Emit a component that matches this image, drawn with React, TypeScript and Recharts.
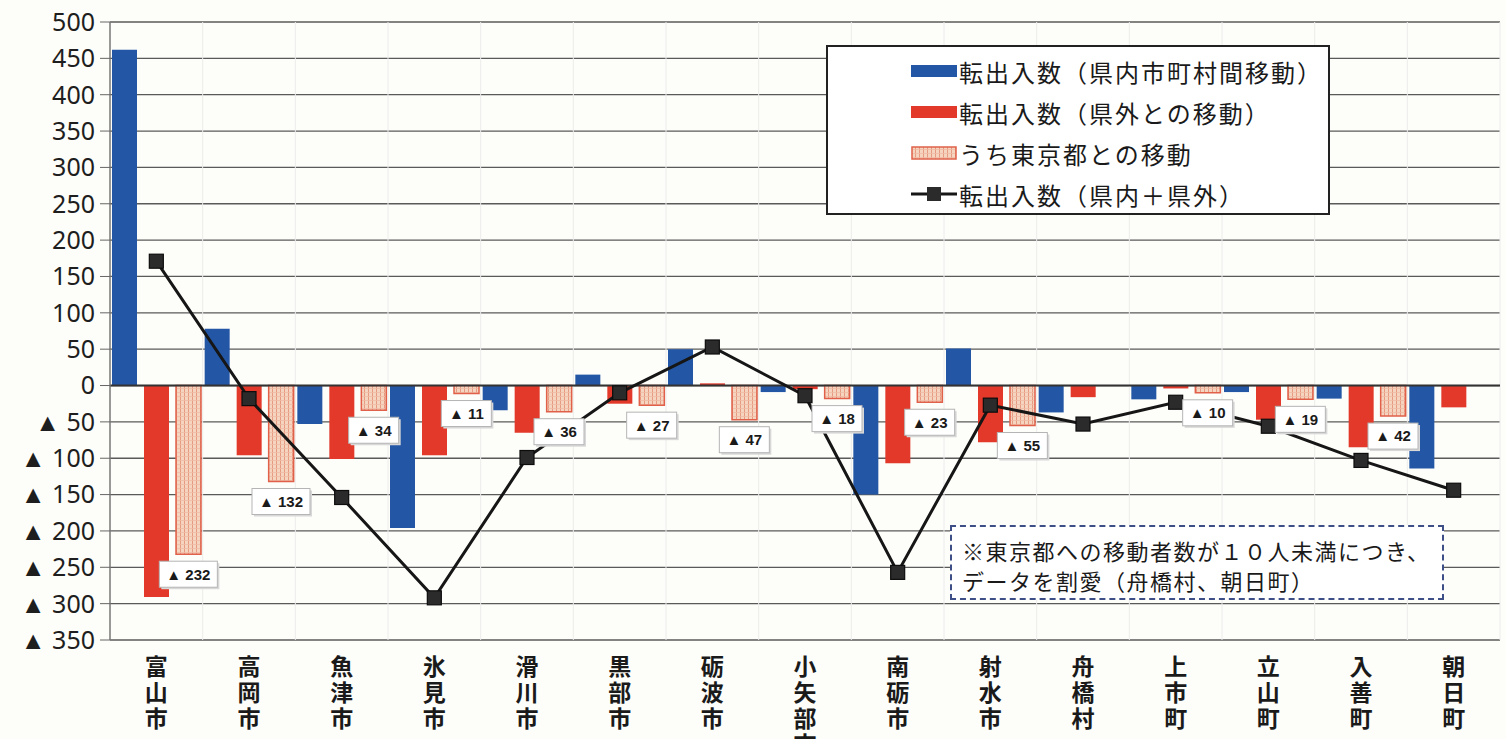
import React from "react";
import { ComposedChart, Bar, Line, XAxis, YAxis, CartesianGrid, ReferenceLine, LabelList } from "recharts";

// 市町村
const cities = [
    "富山市", "高岡市", "魚津市", "氷見市", "滑川市", "黒部市", "砺波市", "小矢部市",
    "南砺市", "射水市", "舟橋村", "上市町", "立山町", "入善町", "朝日町"
];
// 転出入数（県内市町村間移動）
const intraPref = [462, 78, -53, -196, -34, 15, 50, -9, -150, 51, -37, -19, -9, -18, -114];
// 転出入数（県外との移動）
const outerPref = [-291, -96, -101, -96, -65, -25, 3, -5, -107, -78, -16, -4, -47, -85, -30];
// うち東京都との移動 (null = 10人未満につき割愛)
const tokyo = [-232, -132, -34, -11, -36, -27, -47, -18, -23, -55, null, -10, -19, -42, null];
// 転出入数（県内＋県外）
const netTotal = [171, -18, -154, -292, -99, -10, 53, -14, -257, -27, -53, -23, -56, -103, -144];

const yTicks = [500, 450, 400, 350, 300, 250, 200, 150, 100, 50, 0, -50, -100, -150, -200, -250, -300, -350];

const data = cities.map((name, i) => ({
    name,
    intra: intraPref[i],
    outer: outerPref[i],
    tokyo: tokyo[i],
    total: netTotal[i],
}));

const BLUE = "#2357a6";
const RED = "#e2392a";
const JP = "'Noto Sans CJK JP', 'Noto Sans', sans-serif";

const fmtY = (v: number) => (v < 0 ? `▲ ${Math.abs(v)}` : `${v}`);

const CityTick = (props: any) => {
    const { x, y, payload } = props;
    const chars = Array.from(String(payload.value));
    return (
        <text x={x} y={y} textAnchor="middle" fontSize={23} fontWeight={700} fill="#1a1a1a" fontFamily={JP}>
            {chars.map((c, i) => (
                <tspan key={i} x={x} dy={i === 0 ? 35 : 26}>{c}</tspan>
            ))}
        </text>
    );
};

const SquareDot = (props: any) => {
    const { cx, cy, index } = props;
    if (cx == null || cy == null) return null;
    return <rect key={index} x={cx - 7} y={cy - 7} width={14} height={14} fill="#2b2b2b" stroke="#0d0d0d" strokeWidth={1.2} />;
};

// white tag under each Tokyo bar
const TokyoTag = (props: any) => {
    const { x, y, value, index } = props;
    if (value == null || x == null || y == null) return null;
    const txt = `▲ ${Math.abs(value)}`;
    const w = txt.length * 8 + 18;
    const h = 26;
    const cx = x + 32;
    const cy = y + 20;
    return (
        <g key={index}>
            <rect x={cx - w / 2 + 2} y={cy - h / 2 + 2} width={w} height={h} fill="#d8d8d8" />
            <rect x={cx - w / 2} y={cy - h / 2} width={w} height={h} fill="#ffffff" stroke="#b5b5b5" strokeWidth={1} />
            <text x={cx} y={cy} dy="0.36em" textAnchor="middle" fontSize={15} fontWeight={700}
                  fill="#1a1a1a" fontFamily="'Liberation Sans', Arial, sans-serif">{txt}</text>
        </g>
    );
};

const legendItems = [
    { label: "転出入数（県内市町村間移動）", kind: "blue" },
    { label: "転出入数（県外との移動）", kind: "red" },
    { label: "うち東京都との移動", kind: "tokyo" },
    { label: "転出入数（県内＋県外）", kind: "line" },
];

const LegendIcon = ({ kind }: { kind: string }) => (
    <svg width={46} height={16} style={{ marginRight: 2 }}>
        {kind === "blue" && <rect x={0} y={2} width={46} height={12} fill={BLUE} />}
        {kind === "red" && <rect x={0} y={2} width={46} height={12} fill={RED} />}
        {kind === "tokyo" && <rect x={1} y={2} width={44} height={12} fill="url(#tokyoHatch)" stroke="#e0604a" strokeWidth={1.5} />}
        {kind === "line" && (
            <g>
                <line x1={0} y1={8} x2={46} y2={8} stroke="#161616" strokeWidth={3} />
                <rect x={16} y={1} width={14} height={14} fill="#2b2b2b" />
            </g>
        )}
    </svg>
);

const App = () => {
    return (
        <div style={{ position: "absolute", left: 0, top: 0, width: 1506, height: 739, background: "#fdfdf9", overflow: "hidden" }}>
            <svg width={0} height={0} style={{ position: "absolute" }}>
                <defs>
                    <pattern id="tokyoHatch" width={4} height={4} patternUnits="userSpaceOnUse">
                        <rect width={4} height={4} fill="#f5d5c0" />
                        <line x1={0.5} y1={0} x2={0.5} y2={4} stroke="#e79a82" strokeWidth={1} />
                        <line x1={0} y1={0.5} x2={4} y2={0.5} stroke="#f0bba5" strokeWidth={0.8} />
                    </pattern>
                </defs>
            </svg>
            <ComposedChart width={1506} height={739} data={data}
                           margin={{ top: 22, right: 6, bottom: 0, left: 0 }}
                           barSize={25} barGap={7}>
                <CartesianGrid stroke="#5a5a5a" strokeWidth={1.3} vertical={false} />
                <CartesianGrid stroke="#ececec" strokeWidth={1} horizontal={false}
                               verticalCoordinatesGenerator={({ offset }: any) =>
                                   cities.map((_, i) => offset.left + (i + 1) * offset.width / cities.length)} />
                <XAxis dataKey="name" interval={0} tickLine={false} axisLine={false} tickSize={0} tickMargin={0}
                       height={99} tick={<CityTick />} />
                <YAxis domain={[-350, 500]} ticks={yTicks} interval={0} width={110} tickSize={10} tickMargin={5}
                       axisLine={{ stroke: "#777", strokeWidth: 1.5 }} tickLine={{ stroke: "#666" }}
                       tickFormatter={fmtY}
                       tick={{ fontSize: 25, fill: "#1e1e1e", fontFamily: "'Noto Sans', sans-serif" }} />
                <ReferenceLine y={0} stroke="#333" strokeWidth={2} />
                <Bar dataKey="intra" name="転出入数（県内市町村間移動）" fill={BLUE} isAnimationActive={false} />
                <Bar dataKey="outer" name="転出入数（県外との移動）" fill={RED} isAnimationActive={false} />
                <Bar dataKey="tokyo" name="うち東京都との移動" fill="url(#tokyoHatch)" stroke="#e0604a" strokeWidth={1.5}
                     isAnimationActive={false} />
                <Line dataKey="total" name="転出入数（県内＋県外）" stroke="#161616" strokeWidth={3}
                      dot={<SquareDot />} activeDot={false} isAnimationActive={false} />
                <Line dataKey="tokyo" stroke="none" dot={false} activeDot={false} legendType="none" isAnimationActive={false}>
                    <LabelList dataKey="tokyo" content={<TokyoTag />} />
                </Line>
            </ComposedChart>

            <div style={{
                position: "absolute", left: 826, top: 45, width: 500, height: 166,
                background: "#fff", border: "2px solid #222", fontFamily: JP, color: "#1a1a1a",
            }}>
                {legendItems.map((it, i) => (
                    <div key={i} style={{
                        position: "absolute", left: 83, top: 6 + i * 41, height: 36,
                        display: "flex", alignItems: "center", fontSize: 24, letterSpacing: 2, whiteSpace: "nowrap",
                    }}>
                        <LegendIcon kind={it.kind} />
                        <span>{it.label}</span>
                    </div>
                ))}
            </div>

            <div style={{
                position: "absolute", left: 950, top: 525, width: 494, height: 75,
                background: "#fff", border: "2px dashed #3d4f86", fontFamily: JP, color: "#1a1a1a",
                fontSize: 22, lineHeight: "30px", letterSpacing: 1.5, padding: "8px 0 0 10px", boxSizing: "border-box",
                whiteSpace: "nowrap",
            }}>
                <div>※東京都への移動者数が１０人未満につき、</div>
                <div>データを割愛（舟橋村、朝日町）</div>
            </div>
        </div>
    );
};

export default App;
